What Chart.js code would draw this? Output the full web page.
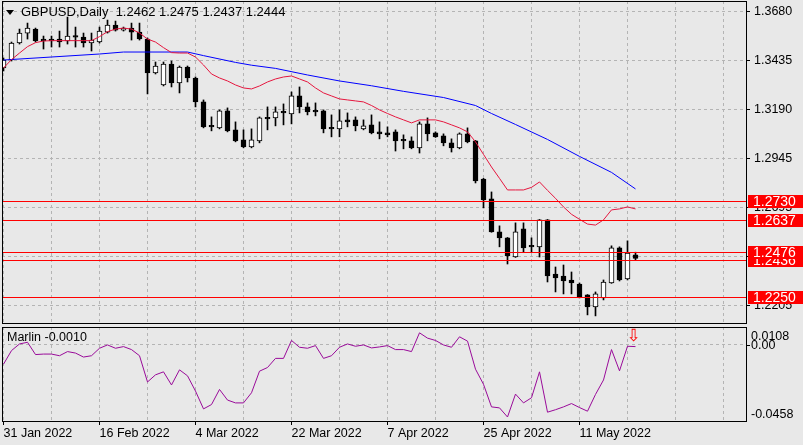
<!DOCTYPE html>
<html>
<head>
<meta charset="utf-8">
<script src="https://cdn.jsdelivr.net/npm/chart.js@4.4.1/dist/chart.umd.min.js"></script>
<style>
html, body { margin: 0; padding: 0; background: #e8e8e8; }
#wrap { position: relative; width: 803px; height: 445px; overflow: hidden; font-family: "Liberation Sans", Arial, sans-serif; }
canvas { position: absolute; left: 0; }
#main { top: 0; }
#sub { top: 323px; }
.lbl { position: absolute; font-size: 12.5px; line-height: 14px; color: #000; white-space: pre; z-index: 2; }
#title { font-size: 13px; }
#tri { position: absolute; left: 6px; top: 10px; width: 0; height: 0; border-left: 4px solid transparent; border-right: 4px solid transparent; border-top: 5px solid #000; z-index: 2; }
</style>
</head>
<body>
<div id="wrap">
  <canvas id="main" width="803" height="325"></canvas>
  <canvas id="sub" width="803" height="122"></canvas>
  <div id="tri"></div>
  <div class="lbl" id="title" style="left:21px; top:5px;">GBPUSD,Daily  1.2462 1.2475 1.2437 1.2444</div>
  <div class="lbl" style="left:7px; top:330px;">Marlin -0.0010</div>
</div>
<script>
// GBPUSD daily candles, 31 Jan 2022 .. 20 May 2022 (one entry per bar)
const candleOpen = [1.3398,1.3438,1.3523,1.3573,1.3593,1.3543,1.3543,1.3543,1.3533,1.3558,
  1.3553,1.3523,1.3528,1.3578,1.3613,1.3588,1.3598,1.3578,1.3543,1.3373,
  1.3313,1.3418,1.3323,1.3403,1.3348,1.3228,1.3104,1.3098,1.3183,1.3088,
  1.3038,1.3003,1.3033,1.3148,1.3148,1.3175,1.3168,1.3258,1.3203,1.3179,
  1.3183,1.3094,1.3093,1.3138,1.3138,1.3093,1.3113,1.3078,1.3073,1.3078,
  1.3034,1.3033,1.2998,1.3118,1.3073,1.3058,1.3023,1.2998,1.3068,1.3033,
  1.2842,1.2742,1.2577,1.2547,1.2451,1.2592,1.2503,1.2502,1.2637,1.2366,
  1.2356,1.2336,1.2316,1.2261,1.2201,1.2246,1.2321,1.2497,1.2341,1.2462];
const candleHigh = [1.3448,1.3528,1.3593,1.3623,1.3598,1.3558,1.3558,1.3583,1.3653,1.3603,
  1.3573,1.3573,1.3603,1.3638,1.3633,1.3603,1.3623,1.3623,1.3548,1.3428,
  1.3428,1.3433,1.3408,1.3408,1.3353,1.3238,1.3153,1.3188,1.3198,1.3128,
  1.3088,1.3093,1.3153,1.3203,1.3203,1.3218,1.3278,1.3303,1.3223,1.3223,
  1.3188,1.3163,1.3188,1.3173,1.3153,1.3138,1.3163,1.3128,1.3103,1.3088,
  1.3063,1.3053,1.3128,1.3148,1.3078,1.3068,1.3043,1.3073,1.3098,1.3035,
  1.2845,1.2777,1.2607,1.2549,1.2622,1.2622,1.2547,1.2639,1.2639,1.2401,
  1.2411,1.2376,1.2321,1.2263,1.2276,1.2336,1.2507,1.2502,1.2532,1.2475];
const candleLow = [1.3383,1.3433,1.3518,1.3543,1.3528,1.3493,1.3503,1.3503,1.3518,1.3503,
  1.3503,1.3483,1.3523,1.3573,1.3583,1.3583,1.3538,1.3538,1.3268,1.3368,
  1.3308,1.3303,1.3273,1.3328,1.3203,1.3098,1.3083,1.3093,1.3078,1.3028,
  1.2998,1.2998,1.3023,1.3088,1.3108,1.3113,1.3118,1.3173,1.3163,1.3158,
  1.3073,1.3053,1.3053,1.3103,1.3083,1.3088,1.3068,1.3043,1.3053,1.2982,
  1.2993,1.2993,1.2972,1.3033,1.3050,1.3008,1.2977,1.2993,1.3023,1.2822,
  1.2697,1.2575,1.2502,1.2416,1.2449,1.2476,1.2476,1.2451,1.2326,1.2276,
  1.2266,1.2266,1.2246,1.2161,1.2156,1.2236,1.2319,1.2331,1.2336,1.2437];
const candleClose = [1.3438,1.3523,1.3573,1.3598,1.3533,1.3533,1.3533,1.3528,1.3558,1.3553,
  1.3523,1.3538,1.3583,1.3613,1.3588,1.3598,1.3578,1.3543,1.3373,1.3408,
  1.3418,1.3323,1.3403,1.3348,1.3228,1.3103,1.3103,1.3183,1.3083,1.3033,
  1.3003,1.3038,1.3148,1.3143,1.3178,1.3173,1.3258,1.3203,1.3178,1.3178,
  1.3093,1.3093,1.3133,1.3128,1.3108,1.3108,1.3073,1.3068,1.3063,1.3033,
  1.3033,1.2998,1.3118,1.3068,1.3053,1.3023,1.2998,1.3068,1.3028,1.2832,
  1.2737,1.2577,1.2547,1.2456,1.2577,1.2497,1.2502,1.2637,1.2356,1.2346,
  1.2331,1.2321,1.2251,1.2201,1.2266,1.2326,1.2497,1.2336,1.2471,1.2444];

// red (fast) moving average, one value per bar
const maFast = [1.3398,1.3440,1.3473,1.3505,1.3525,1.3533,1.3535,1.3535,1.3535,1.3535,
  1.3535,1.3535,1.3555,1.3580,1.3593,1.3598,1.3593,1.3573,1.3543,1.3528,
  1.3500,1.3475,1.3473,1.3473,1.3453,1.3413,1.3368,1.3348,1.3333,1.3313,
  1.3298,1.3293,1.3308,1.3328,1.3343,1.3353,1.3358,1.3343,1.3328,1.3298,
  1.3273,1.3258,1.3243,1.3238,1.3233,1.3228,1.3210,1.3188,1.3170,1.3153,
  1.3138,1.3123,1.3138,1.3138,1.3138,1.3128,1.3113,1.3098,1.3078,1.3028,
  1.2965,1.2902,1.2845,1.2787,1.2787,1.2787,1.2800,1.2827,1.2785,1.2745,
  1.2702,1.2665,1.2640,1.2616,1.2611,1.2637,1.2687,1.2692,1.2702,1.2692];

// blue (slow) moving average, read at the bars where it bends
const maSlowBars = [0, 6, 12, 15, 23, 25, 29, 31, 34, 38, 42, 46, 50, 55, 59, 61, 64, 68, 72, 76, 79];
const maSlow = [1.3438,1.3453,1.3468,1.3478,1.3478,1.3460,1.3426,1.3412,1.3396,1.3363,1.3333,
  1.3309,1.3281,1.3250,1.3210,1.3170,1.3115,1.3040,1.2955,1.2875,1.2792];

// Marlin oscillator, one value per bar
const marlin = [-0.0116,-0.0034,0.0006,0.0016,-0.0058,-0.0055,-0.0055,-0.0065,-0.0040,-0.0049,
  -0.0073,-0.0065,-0.0020,0.0000,-0.0020,-0.0010,-0.0028,-0.0065,-0.0223,-0.0180,
  -0.0162,-0.0241,-0.0150,-0.0186,-0.0278,-0.0385,-0.0359,-0.0268,-0.0332,-0.0349,
  -0.0349,-0.0288,-0.0158,-0.0136,-0.0081,-0.0081,0.0027,-0.0014,-0.0020,-0.0004,
  -0.0081,-0.0065,-0.0014,0.0006,-0.0008,0.0000,-0.0018,-0.0012,-0.0004,-0.0028,
  -0.0028,-0.0040,0.0073,0.0041,0.0027,0.0000,-0.0014,0.0049,0.0023,-0.0146,
  -0.0237,-0.0373,-0.0379,-0.0434,-0.0296,-0.0349,-0.0318,-0.0162,-0.0405,-0.0390,
  -0.0373,-0.0353,-0.0377,-0.0399,-0.0298,-0.0211,-0.0028,-0.0156,-0.0008,-0.0010];
const signalBar = 79;
const signalValue = 0.0053;

// horizontal levels (drawing order) and axis ticks
const levels = [1.2436, 1.2250, 1.2637, 1.2730, 1.2476];
const priceTicks = [1.3680, 1.3435, 1.3190, 1.2945, 1.2700, 1.2455, 1.2210];
const priceTickText = ['1.3680', '1.3435', '1.3190', '1.2945', '1.2695', '1.2450', '1.2205'];
const marlinTicks = [0.0108, 0.00, -0.0458];
const marlinTickText = ['0.0108', '0.00', '-0.0458'];
const dateBars = [0, 12, 24, 36, 48, 60, 72];
const dateLabels = ['31 Jan 2022', '16 Feb 2022', '4 Mar 2022', '22 Mar 2022', '7 Apr 2022', '25 Apr 2022', '11 May 2022'];
const gridBars = [0, 6, 12, 18, 24, 30, 36, 42, 48, 54, 60, 66, 72, 78, 84, 90];

const bars = candleOpen.map((_, i) => i);
const FONT = '"Liberation Sans", Arial, sans-serif';
const gridColor = '#b4b4b4';
const xMin = -0.1875, xMax = xMin + 93;

Chart.defaults.font.family = FONT;
Chart.defaults.font.size = 12.5;
Chart.defaults.color = '#000';

const framePlugin = {
    id: 'frame',
    afterDraw(chart) {
        const a = chart.chartArea, c = chart.ctx;
        c.save();
        c.strokeStyle = '#000';
        c.lineWidth = 1;
        c.strokeRect(a.left + 0.5, a.top + 0.5, a.right - a.left, a.bottom - a.top);
        c.restore();
    }
};

const levelsPlugin = {
    id: 'levels',
    afterDraw(chart) {
        const a = chart.chartArea, c = chart.ctx, ys = chart.scales.y;
        c.save();
        c.strokeStyle = '#ff0000';
        c.lineWidth = 1;
        levels.forEach(v => {
            const y = Math.round(ys.getPixelForValue(v)) + 0.5;
            c.beginPath();
            c.moveTo(a.left, y);
            c.lineTo(a.right, y);
            c.stroke();
        });
        c.font = '14px ' + FONT;
        c.textBaseline = 'middle';
        levels.forEach(v => {
            const y = Math.round(ys.getPixelForValue(v));
            c.fillStyle = '#ff0000';
            c.fillRect(a.right + 2, y - 6, 56, 13);
            c.fillStyle = '#fff';
            c.fillText(v.toFixed(4), a.right + 7, y + 1);
        });
        c.restore();
    }
};

const marlinPlugin = {
    id: 'marlinLabels',
    afterDraw(chart) {
        const a = chart.chartArea, c = chart.ctx, ys = chart.scales.y, xs = chart.scales.x;
        c.save();
        c.font = '12.5px ' + FONT;
        c.fillStyle = '#000';
        c.textBaseline = 'middle';
        const ty = [a.top + 9, ys.getPixelForValue(marlinTicks[1]), a.bottom - 7];
        marlinTickText.forEach((t, i) => c.fillText(t, a.right + 5, ty[i] + 1));
        c.fillRect(a.right + 1, Math.round(ys.getPixelForValue(marlinTicks[1])), 3, 1);
        // signal arrow
        c.fillStyle = '#ff0000';
        c.font = '17px "DejaVu Sans"';
        c.textAlign = 'center';
        c.fillText('\u21E9', xs.getPixelForValue(signalBar) - 2, ys.getPixelForValue(signalValue));
        c.restore();
    }
};

const xGridScale = {
    type: 'linear', min: xMin, max: xMax, offset: false,
    grid: { color: gridColor, offset: false, drawTicks: false },
    border: { display: false, dash: [3, 3] },
    ticks: { display: false },
    afterBuildTicks: s => { s.ticks = gridBars.map(v => ({ value: v })); },
    afterFit: s => { s.height = 0; s.paddingLeft = 0; s.paddingRight = 0; }
};

new Chart(document.getElementById('main'), {
    type: 'bar',
    data: {
        datasets: [
            { type: 'line', label: 'MA fast', data: bars.map(i => ({ x: i, y: maFast[i] })),
              borderColor: '#e5163e', borderWidth: 1, pointRadius: 0, tension: 0, order: -2 },
            { type: 'line', label: 'MA slow', data: maSlowBars.map((b, j) => ({ x: b, y: maSlow[j] })),
              borderColor: '#0000ff', borderWidth: 1, pointRadius: 0, tension: 0, order: -1 },
            { type: 'bar', label: 'body', data: bars.map(i => ({ x: i, y: [candleOpen[i], candleClose[i]] })),
              backgroundColor: ctx => candleClose[ctx.dataIndex] >= candleOpen[ctx.dataIndex] ? '#ffffff' : '#000000',
              borderColor: '#000', borderWidth: 1, borderSkipped: false, barThickness: 5, minBarLength: 1.5,
              grouped: false, order: 0 },
            { type: 'bar', label: 'wick', data: bars.map(i => ({ x: i, y: [candleLow[i], candleHigh[i]] })),
              backgroundColor: '#000', barThickness: 1, grouped: false, order: 1 }
        ]
    },
    options: {
        responsive: false, animation: false, devicePixelRatio: 1, events: [],
        layout: { padding: { left: 2, top: 1, right: 0, bottom: 2 } },
        plugins: { legend: { display: false }, tooltip: { enabled: false } },
        scales: {
            x: xGridScale,
            y: {
                type: 'linear', position: 'right', min: 1.21204, max: 1.37336, beginAtZero: false,
                grid: { color: gridColor, drawTicks: true, tickLength: 4, tickColor: '#000', tickBorderDash: [] },
                border: { display: false, dash: [3, 3] },
                ticks: { padding: 4, callback: (v, i) => priceTickText[i] },
                afterBuildTicks: s => { s.ticks = priceTicks.map(v => ({ value: v })); },
                afterFit: s => { s.width = 57; s.paddingTop = 0; s.paddingBottom = 0; }
            }
        }
    },
    plugins: [levelsPlugin, framePlugin]
});

new Chart(document.getElementById('sub'), {
    type: 'line',
    data: {
        datasets: [
            { label: 'Marlin', data: bars.map(i => ({ x: i, y: marlin[i] })),
              borderColor: '#990a99', borderWidth: 1, pointRadius: 0, tension: 0 }
        ]
    },
    options: {
        responsive: false, animation: false, devicePixelRatio: 1, events: [],
        layout: { padding: { left: 2, top: 4, right: 0, bottom: 0 } },
        plugins: { legend: { display: false }, tooltip: { enabled: false } },
        scales: {
            x: {
                type: 'linear', min: xMin, max: xMax, offset: false,
                grid: { color: gridColor, offset: false, drawTicks: true, tickLength: 4, tickBorderDash: [],
                        tickColor: ctx => dateBars.includes(ctx.tick.value) ? '#000' : 'rgba(0,0,0,0)' },
                border: { display: false, dash: [3, 3] },
                ticks: { align: 'start', autoSkip: false, maxRotation: 0, padding: 1,
                         callback: v => { const j = dateBars.indexOf(v); return j >= 0 ? dateLabels[j] : ''; } },
                afterBuildTicks: s => { s.ticks = gridBars.map(v => ({ value: v })); },
                afterFit: s => { s.height = 24; s.paddingLeft = 0; s.paddingRight = 0; }
            },
            y: {
                type: 'linear', position: 'right', min: -0.0458, max: 0.0108, beginAtZero: false,
                grid: { color: gridColor, drawTicks: false },
                border: { display: false, dash: [3, 3] },
                ticks: { display: false },
                afterBuildTicks: s => { s.ticks = [{ value: marlinTicks[1] }]; },
                afterFit: s => { s.width = 57; s.paddingTop = 0; s.paddingBottom = 0; }
            }
        }
    },
    plugins: [marlinPlugin, framePlugin]
});
</script>
</body>
</html>
